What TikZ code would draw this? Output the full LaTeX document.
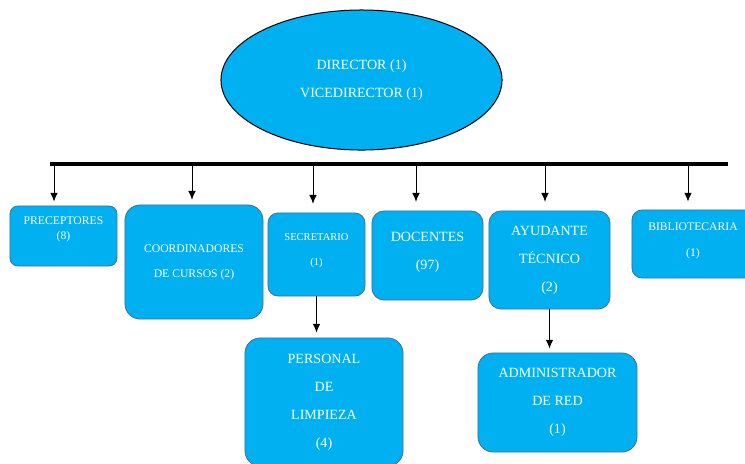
\documentclass[tikz,border=0pt]{standalone}
\usepackage{fontspec}
\setmainfont{Liberation Serif}
\usetikzlibrary{shapes.geometric, arrows.meta}

\definecolor{celeste}{HTML}{00B0F0}
\definecolor{borde}{HTML}{41719C}

\newcommand{\letragrande}{\fontsize{10}{19.9}\selectfont}
\newcommand{\letramedia}{\fontsize{8.3}{17.8}\selectfont}
\newcommand{\letrachica}{\fontsize{7.5}{17.8}\selectfont}

\tikzset{
	caja/.style={rectangle, rounded corners=0.3cm, fill=celeste, draw=borde, line width=0.6pt, text=white, align=center, inner sep=0pt},
	flecha/.style={-{Latex[length=2.2mm, width=1.9mm]}, line width=0.25mm},
}

\begin{document}
\begin{tikzpicture}[x=0.025cm, y=-0.025cm]
		\useasboundingbox (0,0) rectangle (745,463);

		\draw (361.5,80) node (dir) [ellipse, fill=celeste, draw=black, line width=0.25mm, minimum width=7.025cm, minimum height=3.5cm, inner sep=0pt, text=white, align=center, font=\letragrande] {DIRECTOR (1)\\VICEDIRECTOR (1)};

		\draw[line width=1mm] (50,164) coordinate (izq) -- (728,164) coordinate (der);

		\draw (63.5,236) node (prec) [caja, rounded corners=0.2cm, minimum width=2.675cm, minimum height=1.5cm, font={\fontsize{8.3}{10.7}\selectfont}] {PRECEPTORES\\(8)\\\mbox{}};
		\draw (194,262) node (coord) [caja, rounded corners=0.38cm, minimum width=3.45cm, minimum height=2.85cm, font=\letramedia] {COORDINADORES\\DE CURSOS (2)};
		\draw (316.5,254.5) node (secr) [caja, rounded corners=0.25cm, minimum width=2.425cm, minimum height=2.075cm, font=\letrachica] {SECRETARIO\\(1)\\[-10.7pt]\mbox{}};
		\draw (427.5,255.5) node (doc) [caja, minimum width=2.775cm, minimum height=2.225cm, font=\letragrande] {DOCENTES\\(97)\\[-13.5pt]\mbox{}};
		\draw (549.5,260) node (ayud) [caja, minimum width=3.025cm, minimum height=2.45cm, font=\letragrande] {AYUDANTE\\T\'ECNICO\\(2)};
		\draw (693,244) node (bibl) [caja, rounded corners=0.25cm, minimum width=3.05cm, minimum height=1.7cm, font={\fontsize{8.3}{18.5}\selectfont}] {BIBLIOTECARIA\\(1)\\[-12.5pt]\mbox{}};

		\draw (324,402) node (pers) [caja, rounded corners=0.38cm, minimum width=3.95cm, minimum height=3.2cm, font=\letragrande] {PERSONAL\\DE\\LIMPIEZA\\(4)};
		\draw (557.5,402.5) node (admin) [caja, rounded corners=0.38cm, minimum width=3.975cm, minimum height=2.475cm, font=\letragrande] {ADMINISTRADOR\\DE RED\\(1)};

		% flechas desde la barra
		\coordinate (b1) at (54,164);
		\coordinate (b2) at (192,164);
		\coordinate (b3) at (313,164);
		\coordinate (b4) at (416,164);
		\coordinate (b5) at (545,164);
		\coordinate (b6) at (688,164);

		\draw[flecha, shorten >=0.1cm] (b1) -- (b1 |- prec.north);
		\draw[flecha, shorten >=0.12cm] (b2) -- (b2 |- coord.north);
		\draw[flecha, shorten >=0.22cm] (b3) -- (b3 |- secr.north);
		\draw[flecha, shorten >=0.22cm] (b4) -- (b4 |- doc.north);
		\draw[flecha, shorten >=0.22cm] (b5) -- (b5 |- ayud.north);
		\draw[flecha, shorten >=0.2cm] (b6) -- (b6 |- bibl.north);

		\draw[flecha, shorten >=0.125cm] (secr.south) -- (secr.south |- pers.north);
		\draw[flecha, shorten >=0.1cm] (ayud.south) -- (ayud.south |- admin.north);

	\end{tikzpicture}
\end{document}
